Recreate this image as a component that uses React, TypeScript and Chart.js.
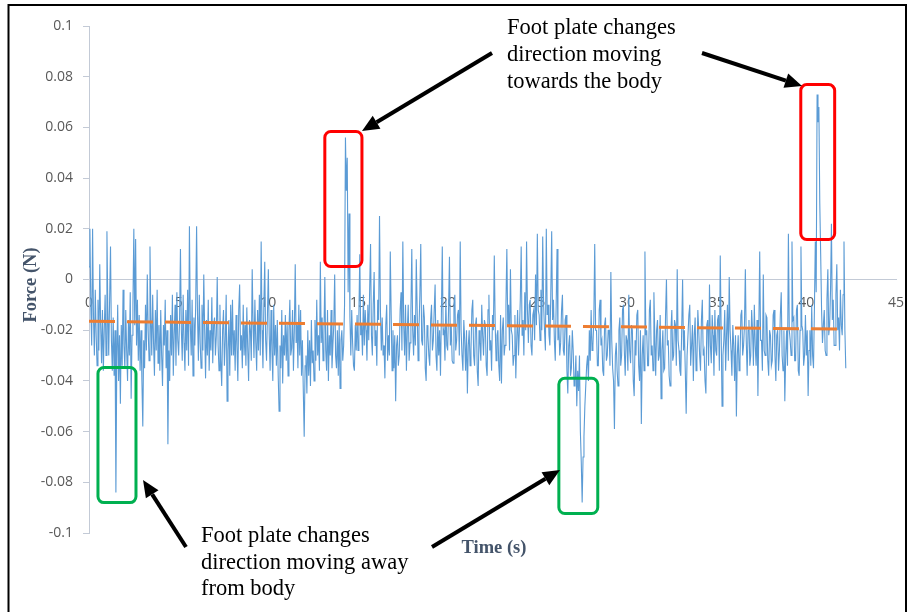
import React, { useEffect, useRef } from 'react';
import { Chart, registerables } from 'chart.js';

Chart.register(...registerables);

// Sampling step of the force record (s): 20 samples per second
const SAMPLE_STEP = 0.05;

// Force (N), one row per second, grouped by 5-second blocks
const force00to05 = [
  0.005, 0.02, -0.01, -0.026, 0.02, -0.015, -0.03, -0.004, -0.022, -0.034, -0.008, -0.028, 0.006, -0.018, -0.033, -0.012, -0.036, -0.02, -0.006, -0.03,
  0.019, -0.012, -0.03, -0.008, 0.013, -0.024, -0.036, -0.015, -0.038, -0.02, -0.084, -0.032, -0.01, -0.04, -0.022, -0.049, -0.018, -0.034, -0.004, -0.026,
  -0.035, -0.012, -0.028, -0.04, -0.016, -0.03, -0.005, -0.047, -0.022, -0.01, 0.02, -0.018, 0.016, -0.026, -0.008, -0.032, -0.014, -0.036, -0.02, -0.04,
  -0.058, -0.024, -0.035, -0.01, -0.028, 0.002, -0.02, -0.032, 0.013, -0.015, -0.03, -0.006, -0.025, -0.038, -0.012, -0.028, -0.004, -0.033, -0.018, -0.036,
  -0.012, -0.03, -0.042, -0.018, -0.026, -0.008, -0.035, -0.02, -0.065, -0.028, -0.04, -0.014, -0.03, -0.006, -0.038, -0.022, -0.01, -0.034, -0.005, -0.024,
];
const force05to10 = [
  -0.03, -0.016, 0.012, -0.02, -0.032, -0.006, -0.025, -0.036, -0.012, -0.028, -0.004, -0.034, 0.021, -0.018, -0.03, -0.008, -0.038, -0.015, -0.026, -0.01,
  0.021, -0.014, -0.032, -0.006, -0.025, -0.035, -0.01, -0.028, 0.002, -0.02, -0.039, -0.016, -0.03, -0.008, -0.036, -0.02, -0.028, -0.007, -0.033, -0.018,
  -0.015, -0.03, -0.022, 0.001, -0.026, -0.036, -0.01, -0.032, -0.042, -0.02, -0.012, -0.034, -0.024, -0.006, -0.048, -0.028, -0.016, -0.038, -0.01, -0.03,
  -0.008, -0.03, -0.02, -0.036, -0.014, -0.026, -0.04, -0.012, -0.002, -0.028, -0.022, -0.035, -0.01, -0.03, -0.018, -0.034, -0.011, -0.027, -0.04, -0.016,
  -0.02, -0.032, 0.004, -0.018, -0.031, -0.008, -0.025, -0.036, -0.012, -0.028, -0.006, -0.03, 0.015, -0.02, -0.035, -0.01, 0.007, -0.024, -0.032, -0.014,
];
const force10to15 = [
  0.004, -0.022, -0.036, -0.012, -0.028, -0.04, -0.01, -0.03, -0.018, -0.034, -0.016, -0.038, -0.052, -0.026, -0.035, -0.012, -0.041, -0.022, -0.03, -0.014,
  -0.032, -0.018, -0.038, -0.02, -0.008, -0.03, -0.027, -0.012, -0.036, -0.02, 0.006, -0.025, -0.018, -0.035, -0.01, -0.03, -0.012, -0.038, -0.024, -0.044,
  -0.062, -0.034, -0.03, -0.045, -0.02, -0.038, -0.024, -0.042, -0.016, -0.033, -0.028, -0.04, -0.016, -0.032, -0.008, -0.03, -0.022, -0.036, 0.007, -0.025,
  -0.015, -0.032, -0.022, 0.001, -0.028, -0.036, -0.012, -0.04, -0.022, -0.03, -0.012, -0.035, -0.026, -0.018, 0.002, -0.03, -0.035, -0.02, -0.038, -0.018,
  -0.043, -0.024, -0.02, -0.032, -0.026, -0.01, 0.056, 0.035, 0.048, -0.005, 0.026, -0.015, -0.03, -0.012, -0.025, -0.034, -0.036, -0.018, -0.028, -0.014,
];
const force15to20 = [
  -0.028, -0.014, 0.01, -0.022, -0.018, -0.03, -0.006, -0.026, -0.012, -0.02, -0.032, -0.01, -0.024, -0.004, 0.014, -0.022, -0.03, -0.01, 0.003, -0.026,
  -0.02, -0.034, -0.008, -0.016, 0.025, -0.012, -0.028, -0.015, -0.03, -0.026, -0.039, -0.018, -0.01, -0.032, -0.022, -0.03, 0.011, -0.014, -0.036, -0.02,
  -0.035, -0.022, -0.048, -0.026, -0.022, -0.034, -0.03, -0.012, -0.005, -0.028, 0.015, -0.018, -0.03, -0.01, -0.036, -0.02, -0.01, -0.032, -0.025, -0.012,
  0.012, -0.02, -0.03, -0.014, -0.026, 0.008, -0.012, -0.032, -0.02, -0.006, 0.014, -0.024, -0.026, -0.01, -0.015, -0.035, -0.04, -0.018, -0.022, -0.03,
  -0.034, -0.016, -0.01, -0.028, -0.024, -0.012, -0.002, -0.03, -0.036, -0.016, -0.03, -0.02, -0.038, -0.014, 0.013, -0.022, -0.02, -0.032, -0.008, -0.026,
];
const force20to25 = [
  -0.028, -0.012, 0.009, -0.026, -0.018, -0.032, -0.033, -0.01, -0.006, -0.028, -0.024, -0.014, -0.012, -0.03, 0.015, -0.02, -0.03, -0.036, -0.016, -0.024,
  -0.036, -0.02, -0.045, -0.026, -0.02, -0.034, -0.028, -0.012, -0.008, -0.03, -0.034, -0.018, -0.015, -0.036, -0.042, -0.02, -0.025, -0.032, -0.01, -0.022,
  -0.03, -0.016, -0.018, -0.034, -0.038, -0.012, -0.006, -0.028, -0.024, -0.036, -0.014, -0.02, 0.0095, -0.018, -0.032, -0.022, -0.02, -0.034, -0.04, -0.014,
  -0.041, -0.02, -0.015, -0.03, -0.026, -0.01, 0.012, -0.018, -0.01, -0.028, 0.004, -0.02, -0.022, -0.034, -0.03, -0.014, -0.039, -0.024, -0.012, -0.03,
  -0.02, -0.008, 0.013, -0.022, -0.016, -0.03, -0.005, -0.02, 0.015, -0.012, -0.025, -0.01, -0.008, -0.026, -0.03, -0.014, -0.012, -0.024, 0.002, -0.018,
];
const force25to30 = [
  0.018, -0.012, -0.014, -0.024, -0.004, -0.02, 0.017, -0.01, -0.02, -0.028, 0.02, -0.014, -0.01, -0.022, -0.026, -0.006, 0.019, -0.016, -0.008, -0.024,
  -0.032, -0.01, 0.012, -0.024, -0.018, -0.03, -0.025, -0.012, -0.006, -0.028, -0.03, -0.016, -0.014, -0.036, -0.045, -0.026, -0.022, -0.038, -0.035, -0.02,
  -0.028, -0.042, -0.04, -0.03, -0.05, -0.036, -0.044, -0.03, -0.06, -0.072, -0.088, -0.07, -0.062, -0.05, -0.042, -0.034, -0.03, -0.04, -0.02, -0.032,
  -0.012, -0.028, -0.026, -0.016, 0.014, -0.02, -0.02, -0.034, -0.034, -0.012, -0.008, -0.026, -0.024, -0.036, -0.038, -0.018, -0.015, -0.032, -0.03, -0.02,
  -0.02, -0.034, 0.003, -0.024, -0.035, -0.04, -0.059, -0.03, -0.025, -0.036, -0.042, -0.02, -0.015, -0.034, -0.03, -0.012, -0.01, -0.028, -0.038, -0.022,
];
const force30to35 = [
  -0.024, -0.036, -0.006, -0.028, -0.033, -0.018, -0.02, -0.04, -0.046, -0.024, -0.03, -0.014, -0.012, -0.034, -0.04, -0.02, -0.057, -0.03, -0.022, -0.036,
  0.011, -0.022, -0.02, -0.034, -0.034, -0.012, -0.008, -0.03, -0.026, -0.036, -0.005, -0.022, -0.038, -0.02, -0.016, -0.032, -0.03, -0.014, -0.047, -0.028,
  -0.02, -0.036, -0.035, -0.014, 0.0, -0.026, -0.024, -0.038, -0.042, -0.02, -0.012, -0.032, -0.03, -0.016, -0.018, -0.034, 0.004, -0.024, -0.028, -0.036,
  -0.038, -0.02, 0.0, -0.028, -0.02, -0.036, -0.053, -0.03, -0.03, -0.014, -0.01, -0.034, -0.026, -0.018, -0.04, -0.022, -0.015, -0.036, -0.032, -0.012,
  -0.02, -0.03, -0.036, -0.016, -0.008, -0.03, -0.028, -0.04, -0.045, -0.018, -0.016, -0.034, -0.002, -0.026, -0.033, -0.014, -0.022, -0.038, -0.012, -0.028,
];
const force35to40 = [
  -0.03, -0.016, -0.014, -0.036, 0.0095, -0.02, -0.05, -0.03, -0.024, -0.012, -0.036, -0.022, -0.01, -0.032, 0.001, -0.02, -0.028, -0.038, -0.018, -0.026,
  -0.04, -0.022, -0.054, -0.03, -0.022, -0.036, -0.032, -0.014, -0.012, -0.03, -0.026, -0.018, 0.004, -0.024, -0.038, -0.02, -0.016, -0.034, -0.03, -0.012,
  -0.02, -0.034, -0.01, -0.026, -0.034, -0.016, -0.046, -0.02, 0.011, -0.024, -0.024, -0.036, 0.002, -0.028, -0.03, -0.014, -0.015, -0.032, -0.038, -0.02,
  -0.022, -0.034, -0.032, -0.014, -0.012, -0.03, -0.04, -0.022, -0.02, -0.036, -0.028, -0.014, -0.005, -0.03, -0.036, -0.02, -0.048, -0.03, -0.02, -0.034,
  0.018, -0.02, -0.024, -0.03, 0.015, -0.016, -0.015, -0.032, -0.032, -0.012, -0.01, -0.036, -0.038, -0.02, 0.013, -0.018, -0.02, -0.034, -0.03, -0.014,
];
const force40to42 = [
  -0.03, -0.02, -0.046, -0.028, -0.02, -0.034, -0.01, -0.03, -0.035, -0.012, 0.015, -0.005, 0.073, 0.062, 0.068, 0.03, 0.01, -0.012, -0.025, -0.018,
  -0.012, -0.028, -0.03, -0.008, 0.004, -0.022, -0.018, -0.004, 0.022, -0.016, -0.008, -0.026, -0.026, -0.006, 0.006, -0.02, -0.015, -0.028, -0.004, -0.018,
  -0.022, -0.006, 0.015, -0.02, -0.035,
];

// Linear trend line end points
const trendTime = [0, 42.2];
const trendForce = [-0.0165, -0.0196];

// Axis ticks
const xTicks = [0, 5, 10, 15, 20, 25, 30, 35, 40, 45];
const yTicks = [-0.1, -0.08, -0.06, -0.04, -0.02, 0, 0.02, 0.04, 0.06, 0.08, 0.1];

// Highlight boxes in data units: [tStart, tEnd, fTop, fBottom]
const redBoxes = [
  [13.15, 15.22, 0.0584, 0.0051],
  [39.69, 41.58, 0.0769, 0.0158],
];
const greenBoxes = [
  [0.5, 2.62, -0.0347, -0.088],
  [26.2, 28.37, -0.039, -0.0923],
];

const topNote = ['Foot plate changes', 'direction moving', 'towards the body'];
const bottomNote = ['Foot plate changes', 'direction moving away', 'from body'];

const force = [
  ...force00to05, ...force05to10, ...force10to15, ...force15to20, ...force20to25,
  ...force25to30, ...force30to35, ...force35to40, ...force40to42,
];

function drawArrow(ctx: CanvasRenderingContext2D, x1: number, y1: number, x2: number, y2: number) {
  const ang = Math.atan2(y2 - y1, x2 - x1);
  const headLen = 17;
  const headW = 7.5;
  const bx = x2 - headLen * Math.cos(ang);
  const by = y2 - headLen * Math.sin(ang);
  ctx.save();
  ctx.strokeStyle = '#000';
  ctx.fillStyle = '#000';
  ctx.lineWidth = 4;
  ctx.beginPath();
  ctx.moveTo(x1, y1);
  ctx.lineTo(bx, by);
  ctx.stroke();
  ctx.beginPath();
  ctx.moveTo(x2, y2);
  ctx.lineTo(bx + headW * Math.sin(ang), by - headW * Math.cos(ang));
  ctx.lineTo(bx - headW * Math.sin(ang), by + headW * Math.cos(ang));
  ctx.closePath();
  ctx.fill();
  ctx.restore();
}

const overlayPlugin = {
  id: 'overlay',
  afterDraw(chart: any) {
    const ctx: CanvasRenderingContext2D = chart.ctx;
    const xs = chart.scales.x;
    const ys = chart.scales.y;
    ctx.save();

    const box = (b: number[], color: string) => {
      const x1 = xs.getPixelForValue(b[0]);
      const x2 = xs.getPixelForValue(b[1]);
      const y1 = ys.getPixelForValue(b[2]);
      const y2 = ys.getPixelForValue(b[3]);
      ctx.beginPath();
      ctx.strokeStyle = color;
      ctx.lineWidth = 3;
      (ctx as any).roundRect(x1, y1, x2 - x1, y2 - y1, 6);
      ctx.stroke();
    };
    redBoxes.forEach((b) => box(b, '#ff0000'));
    greenBoxes.forEach((b) => box(b, '#00b050'));

    drawArrow(ctx, 492, 53, 362, 131);
    drawArrow(ctx, 702, 53, 802, 86);
    drawArrow(ctx, 186, 547, 143, 480);
    drawArrow(ctx, 432, 547, 560, 470);

    ctx.fillStyle = '#000';
    ctx.font = '22.5px "Liberation Serif", "Times New Roman", serif';
    ctx.textAlign = 'left';
    ctx.textBaseline = 'alphabetic';
    topNote.forEach((s, i) => ctx.fillText(s, 507, 34 + i * 27));
    bottomNote.forEach((s, i) => ctx.fillText(s, 201, 542 + i * 26.5));

    // axis titles
    ctx.fillStyle = '#44546a';
    ctx.font = 'bold 18.5px "Liberation Serif", "Times New Roman", serif';
    ctx.textAlign = 'center';
    ctx.textBaseline = 'middle';
    ctx.fillText('Time (s)', 494, 548);
    ctx.save();
    ctx.translate(31, 285);
    ctx.rotate(-Math.PI / 2);
    ctx.fillText('Force (N)', 0, 0);
    ctx.restore();

    // outer frame
    ctx.strokeStyle = '#000';
    ctx.lineWidth = 2;
    ctx.beginPath();
    ctx.moveTo(8.5, 620);
    ctx.lineTo(8.5, 5);
    ctx.lineTo(906, 5);
    ctx.lineTo(906, 620);
    ctx.stroke();
    ctx.restore();
  },
};

export default function App() {
  const ref = useRef<HTMLCanvasElement | null>(null);

  useEffect(() => {
    if (!ref.current) return;
    const points = force.map((y, i) => ({ x: +(i * SAMPLE_STEP).toFixed(2), y }));
    const trend = trendTime.map((x, i) => ({ x, y: trendForce[i] }));
    const chart = new Chart(ref.current, {
      type: 'line',
      data: {
        datasets: [
          {
            label: 'Force',
            data: points,
            borderColor: '#5b9bd5',
            borderWidth: 1.1,
            pointRadius: 0,
            tension: 0,
            order: 2,
          },
          {
            label: 'Trend',
            data: trend,
            borderColor: '#ed7d31',
            borderWidth: 3,
            borderDash: [26, 12],
            pointRadius: 0,
            order: 1,
          },
        ],
      },
      options: {
        responsive: false,
        animation: false,
        events: [],
        layout: { padding: { top: 26, right: 13, bottom: 79, left: 0 } },
        plugins: { legend: { display: false }, tooltip: { enabled: false } },
        scales: {
          x: {
            type: 'linear',
            min: 0,
            max: 45,
            position: { y: 0 } as any,
            afterBuildTicks: (s: any) => { s.ticks = xTicks.map((v) => ({ value: v })); },
            afterFit: (s: any) => { s.paddingLeft = 0; s.paddingRight = 0; },
            grid: { display: false, drawTicks: false },
            border: { display: true, color: '#c3cad6', width: 1 },
            ticks: {
              padding: 15,
              color: '#595959',
              font: { family: '"Open Sans", sans-serif', size: 14 },
              maxRotation: 0,
              callback: (v: any) => String(v),
            },
          },
          y: {
            type: 'linear',
            min: -0.1,
            max: 0.1,
            afterFit: (s: any) => { s.width = 89; },
            afterBuildTicks: (s: any) => { s.ticks = yTicks.map((v) => ({ value: v })); },
            grid: { display: true, drawOnChartArea: false, drawTicks: true, tickLength: 6, color: '#c3cad6' },
            border: { display: true, color: '#c3cad6', width: 1 },
            ticks: {
              padding: 10,
              color: '#595959',
              font: { family: '"Open Sans", sans-serif', size: 14 },
              callback: (v: any) => String(+Number(v).toFixed(2)),
            },
          },
        },
      },
      plugins: [overlayPlugin],
    });
    return () => chart.destroy();
  }, []);

  return (
    <div style={{ position: 'absolute', left: 0, top: 0, width: 909, height: 612, background: '#fff' }}>
      <canvas ref={ref} width={909} height={612} style={{ display: 'block' }} />
    </div>
  );
}
